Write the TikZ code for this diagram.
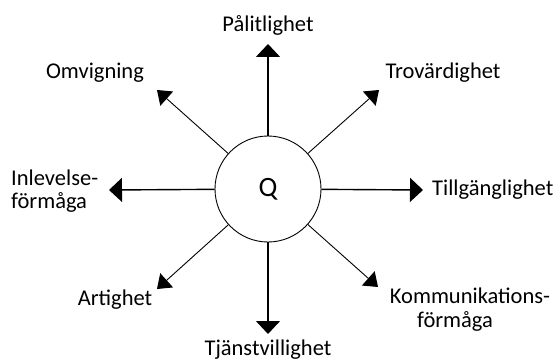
\documentclass[tikz,border=0pt]{standalone}
\usepackage{fontspec}
\setmainfont{Carlito}
\usetikzlibrary{arrows.meta}
\begin{document}
\begin{tikzpicture}[x=1pt,y=-1pt,
  lbl/.style={inner sep=0pt,font=\fontsize{22.5}{23}\selectfont,text=black},
  main/.style={line width=1.4pt,-{Triangle[length=13pt,width=24pt]}},
  diag/.style={line width=0.9pt,-{Triangle[length=13pt,width=19pt]}}]
\useasboundingbox (0,0) rectangle (557,361);
\node[circle,draw,line width=0.9pt,minimum size=106pt,inner sep=0pt,font=\fontsize{28}{30}\selectfont] (Q) at (268,189) {Q};
\coordinate (tN) at (268,44);
\coordinate (tS) at (268,334);
\coordinate (tW) at (109,190);
\coordinate (tE) at (423,190);
\coordinate (tNW) at (157,90);
\coordinate (tNE) at (379,90);
\coordinate (tSW) at (157,289);
\coordinate (tSE) at (378,287);
\draw[main] (Q) -- (tN);
\draw[main] (Q) -- (tS);
\draw[main] (Q) -- (tW);
\draw[main] (Q) -- (tE);
\draw[diag] (Q) -- (tNW);
\draw[diag] (Q) -- (tNE);
\draw[diag] (Q) -- (tSW);
\draw[diag] (Q) -- (tSE);
\node[lbl] (lN) at (268,25) {Pålitlighet};
\node[lbl] (lS) at (268,350) {Tjänstvillighet};
\node[lbl,anchor=west] (lE) at (432,190) {Tillgänglighet};
\node[lbl,anchor=west,align=left] (lW) at (11,191) {Inlevelse-\\förmåga};
\node[lbl] (lNW) at (95,73) {Omvigning};
\node[lbl] (lNE) at (443,73) {Trovärdighet};
\node[lbl] (lSW) at (115,300) {Artighet};
\node[lbl] (lSE1) at (470,296) {Kommunikations-};
\node[lbl] (lSE2) at (455,321) {förmåga};
\end{tikzpicture}
\end{document}
